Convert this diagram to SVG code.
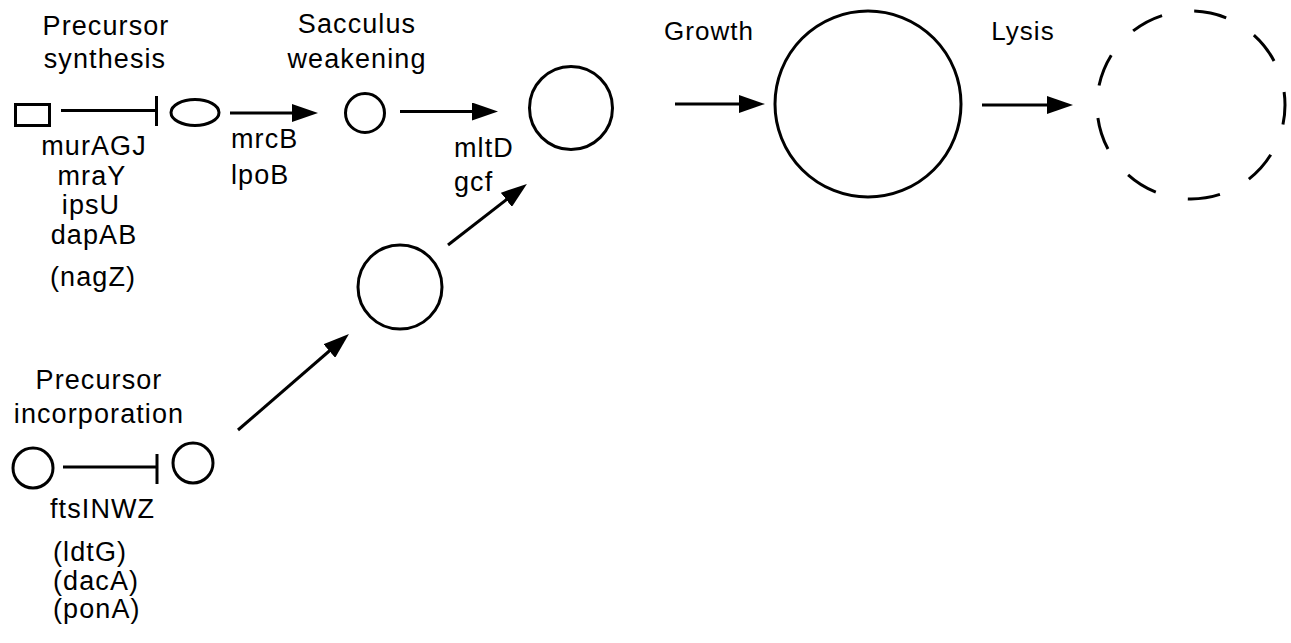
<svg xmlns="http://www.w3.org/2000/svg" width="1291" height="643" viewBox="0 0 1291 643">
<style>
.t{font-family:"Liberation Sans",Arial,Helvetica,sans-serif;font-size:27px;letter-spacing:1.1px;fill:#000}
.s{font-size:26px;letter-spacing:1px}
.c{text-anchor:middle}
.sh{fill:none;stroke:#000;stroke-width:3}
.ln{fill:none;stroke:#000;stroke-width:3}
</style>
<defs>
<marker id="ah" viewBox="0 0 26 18" refX="16" refY="9" markerWidth="26" markerHeight="18" orient="auto" markerUnits="userSpaceOnUse">
<path d="M0,0 L26,9 L0,18 z" fill="#000"/>
</marker>
</defs>
<rect width="1291" height="643" fill="#fff"/>

<g id="labels">
<text class="t c" x="106" y="35">Precursor</text>
<text class="t c" x="105" y="68">synthesis</text>
<text class="t c" x="357" y="33">Sacculus</text>
<text class="t c" x="357" y="68">weakening</text>
<text class="t s c" x="709" y="40">Growth</text>
<text class="t s c" x="1023" y="40">Lysis</text>
<text class="t c" x="99" y="389">Precursor</text>
<text class="t c" x="99" y="423">incorporation</text>
</g>

<g id="node-precursor">
<rect class="sh" x="15.5" y="104.5" width="34" height="21"/>
</g>
<g id="node-lipid">
<ellipse class="sh" cx="195" cy="112.5" rx="24" ry="13"/>
</g>
<g id="node-sacculus">
<circle class="sh" cx="365" cy="113" r="19.5"/>
</g>
<g id="node-weakened">
<circle class="sh" cx="571" cy="108" r="41.5"/>
</g>
<g id="node-grown">
<circle class="sh" cx="868" cy="104" r="93"/>
</g>
<g id="node-lysed">
<circle class="sh" cx="1191" cy="105" r="94" pathLength="360" stroke-dasharray="20 20" stroke-dashoffset="8"/>
</g>
<g id="node-middle">
<circle class="sh" cx="400" cy="287" r="42"/>
</g>
<g id="node-inc-left">
<circle class="sh" cx="33" cy="468" r="20"/>
</g>
<g id="node-inc-right">
<circle class="sh" cx="193" cy="463" r="20"/>
</g>

<g id="gene-labels">
<text class="t c" x="94" y="155">murAGJ</text>
<text class="t c" x="92" y="185">mraY</text>
<text class="t c" x="91" y="214">ipsU</text>
<text class="t c" x="94" y="244">dapAB</text>
<text class="t c" x="93" y="286">(nagZ)</text>
<text class="t" x="231" y="148">mrcB</text>
<text class="t" x="231" y="184">lpoB</text>
<text class="t" x="454" y="157">mltD</text>
<text class="t" x="454" y="191">gcf</text>
<text class="t" x="50" y="518">ftsINWZ</text>
<text class="t" x="53" y="561">(ldtG)</text>
<text class="t" x="53" y="590">(dacA)</text>
<text class="t" x="53" y="618">(ponA)</text>
</g>

<g id="connectors">
<line class="ln" x1="61" y1="110.5" x2="156.5" y2="110.5"/>
<line class="ln" x1="156.5" y1="96" x2="156.5" y2="126"/>
<line class="ln" x1="230" y1="113" x2="308" y2="113" marker-end="url(#ah)"/>
<line class="ln" x1="400" y1="111.5" x2="488" y2="111.5" marker-end="url(#ah)"/>
<line class="ln" x1="675" y1="104" x2="755" y2="104" marker-end="url(#ah)"/>
<line class="ln" x1="982" y1="105" x2="1063" y2="105" marker-end="url(#ah)"/>
<line class="ln" x1="448" y1="245" x2="519" y2="190" marker-end="url(#ah)"/>
<line class="ln" x1="238" y1="430" x2="341.4" y2="340.5" marker-end="url(#ah)"/>
<line class="ln" x1="63" y1="467" x2="157" y2="467"/>
<line class="ln" x1="157" y1="454" x2="157" y2="484"/>
</g>
</svg>
